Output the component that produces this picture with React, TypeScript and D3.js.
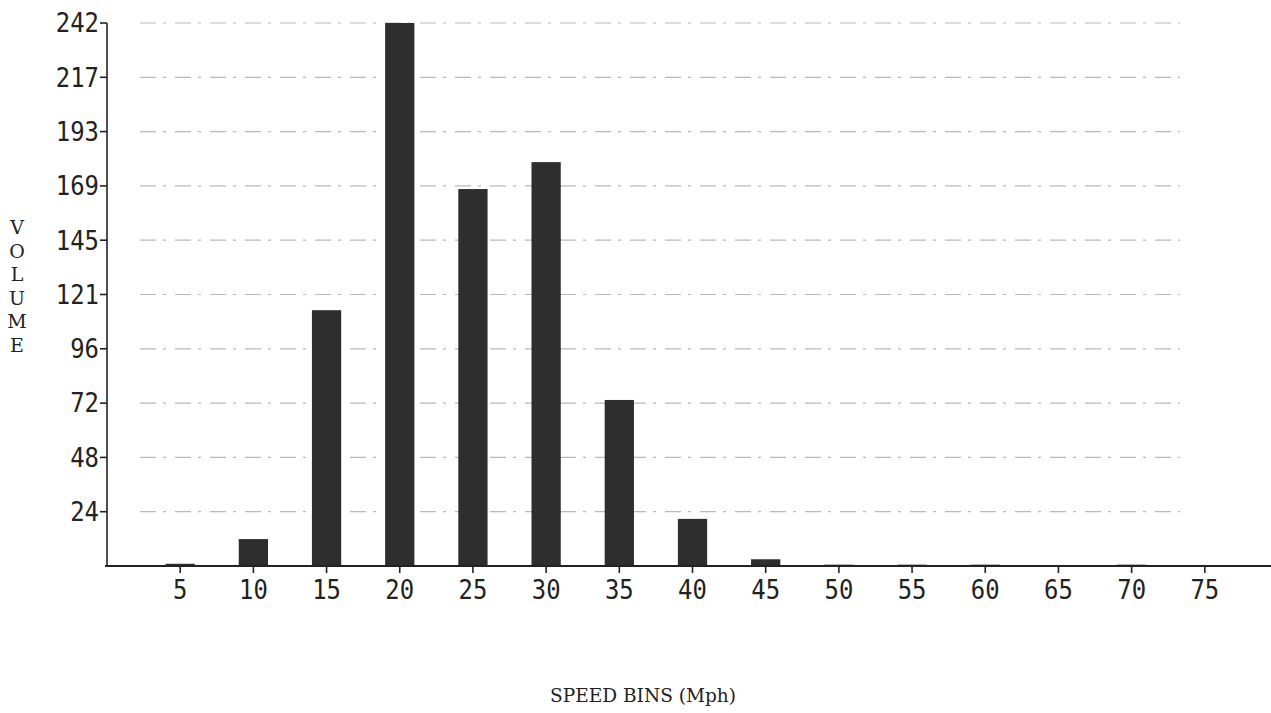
import React from 'react';
import * as d3 from 'd3';

// speed bins (mph) and counted volume per bin
const speedBins = [5, 10, 15, 20, 25, 30, 35, 40, 45, 50, 55, 60, 65, 70, 75];
const volumes = [1, 12, 114, 242, 168, 180, 74, 21, 3, 0.6, 0.6, 0.6, 0, 0.6, 0];
const yTickLabels = ['24', '48', '72', '96', '121', '145', '169', '193', '217', '242'];
const yMax = 242;

const W = 1271;
const H = 713;

const App: React.FC = () => {
    const x = d3.scaleLinear().domain([0, 80]).range([107, 1278]);
    const y = d3.scaleLinear().domain([0, yMax]).range([566, 23]);
    const yTicks = yTickLabels.map((_, i) => (yMax * (i + 1)) / yTickLabels.length);
    const tickFont = '"DejaVu Sans Mono", monospace';
    const titleFont = '"DejaVu Serif", "Liberation Serif", serif';

    return (
        <svg width={W} height={H} style={{position: 'absolute', left: 0, top: 0, background: '#fff'}}>
            {/* faint dotted grid lines at the tick values */}
            {yTicks.map((t, i) => (
                <line key={'g' + i} x1={140} x2={1180} y1={y(t)} y2={y(t)}
                      stroke="#666" strokeWidth={1.2} strokeDasharray="16 7 3 9" opacity={0.45} />
            ))}

            {/* bars */}
            {speedBins.map((s, i) => (
                <rect key={'b' + i} x={x(s - 1)} width={x(s + 1) - x(s - 1)}
                      y={y(volumes[i])} height={y(0) - y(volumes[i])} fill="#2e2e2e" />
            ))}

            {/* y axis */}
            <line x1={x(0)} x2={x(0)} y1={y(yMax)} y2={y(0)} stroke="#222" strokeWidth={1.6} />
            {yTicks.map((t, i) => (
                <g key={'yt' + i}>
                    <line x1={x(0) - 7} x2={x(0)} y1={y(t)} y2={y(t)} stroke="#222" strokeWidth={1.6} />
                    <text transform={`translate(${x(0) - 8},${y(t)}) scale(0.92,1)`} dy="0.36em" textAnchor="end"
                          fontFamily={tickFont} fontSize={26} fill="#222">{yTickLabels[i]}</text>
                </g>
            ))}

            {/* x axis */}
            <line x1={x(0) - 2} x2={W} y1={y(0)} y2={y(0)} stroke="#222" strokeWidth={1.8} />
            {speedBins.map((s) => (
                <g key={'xt' + s}>
                    <line x1={x(s)} x2={x(s)} y1={y(0)} y2={y(0) + 7} stroke="#222" strokeWidth={1.6} />
                    <text transform={`translate(${x(s)},599) scale(0.92,1)`} textAnchor="middle"
                          fontFamily={tickFont} fontSize={26} fill="#222">{s}</text>
                </g>
            ))}

            {/* axis titles */}
            {'VOLUME'.split('').map((c, i) => (
                <text key={'v' + i} x={17} y={234 + i * 23.5} textAnchor="middle"
                      fontFamily={titleFont} fontSize={19} fill="#222">{c}</text>
            ))}
            <text x={550} y={702} textLength={186} lengthAdjust="spacingAndGlyphs"
                  fontFamily={titleFont} fontSize={19} fill="#222">
                SPEED BINS (Mph)
            </text>
        </svg>
    );
};

export default App;
